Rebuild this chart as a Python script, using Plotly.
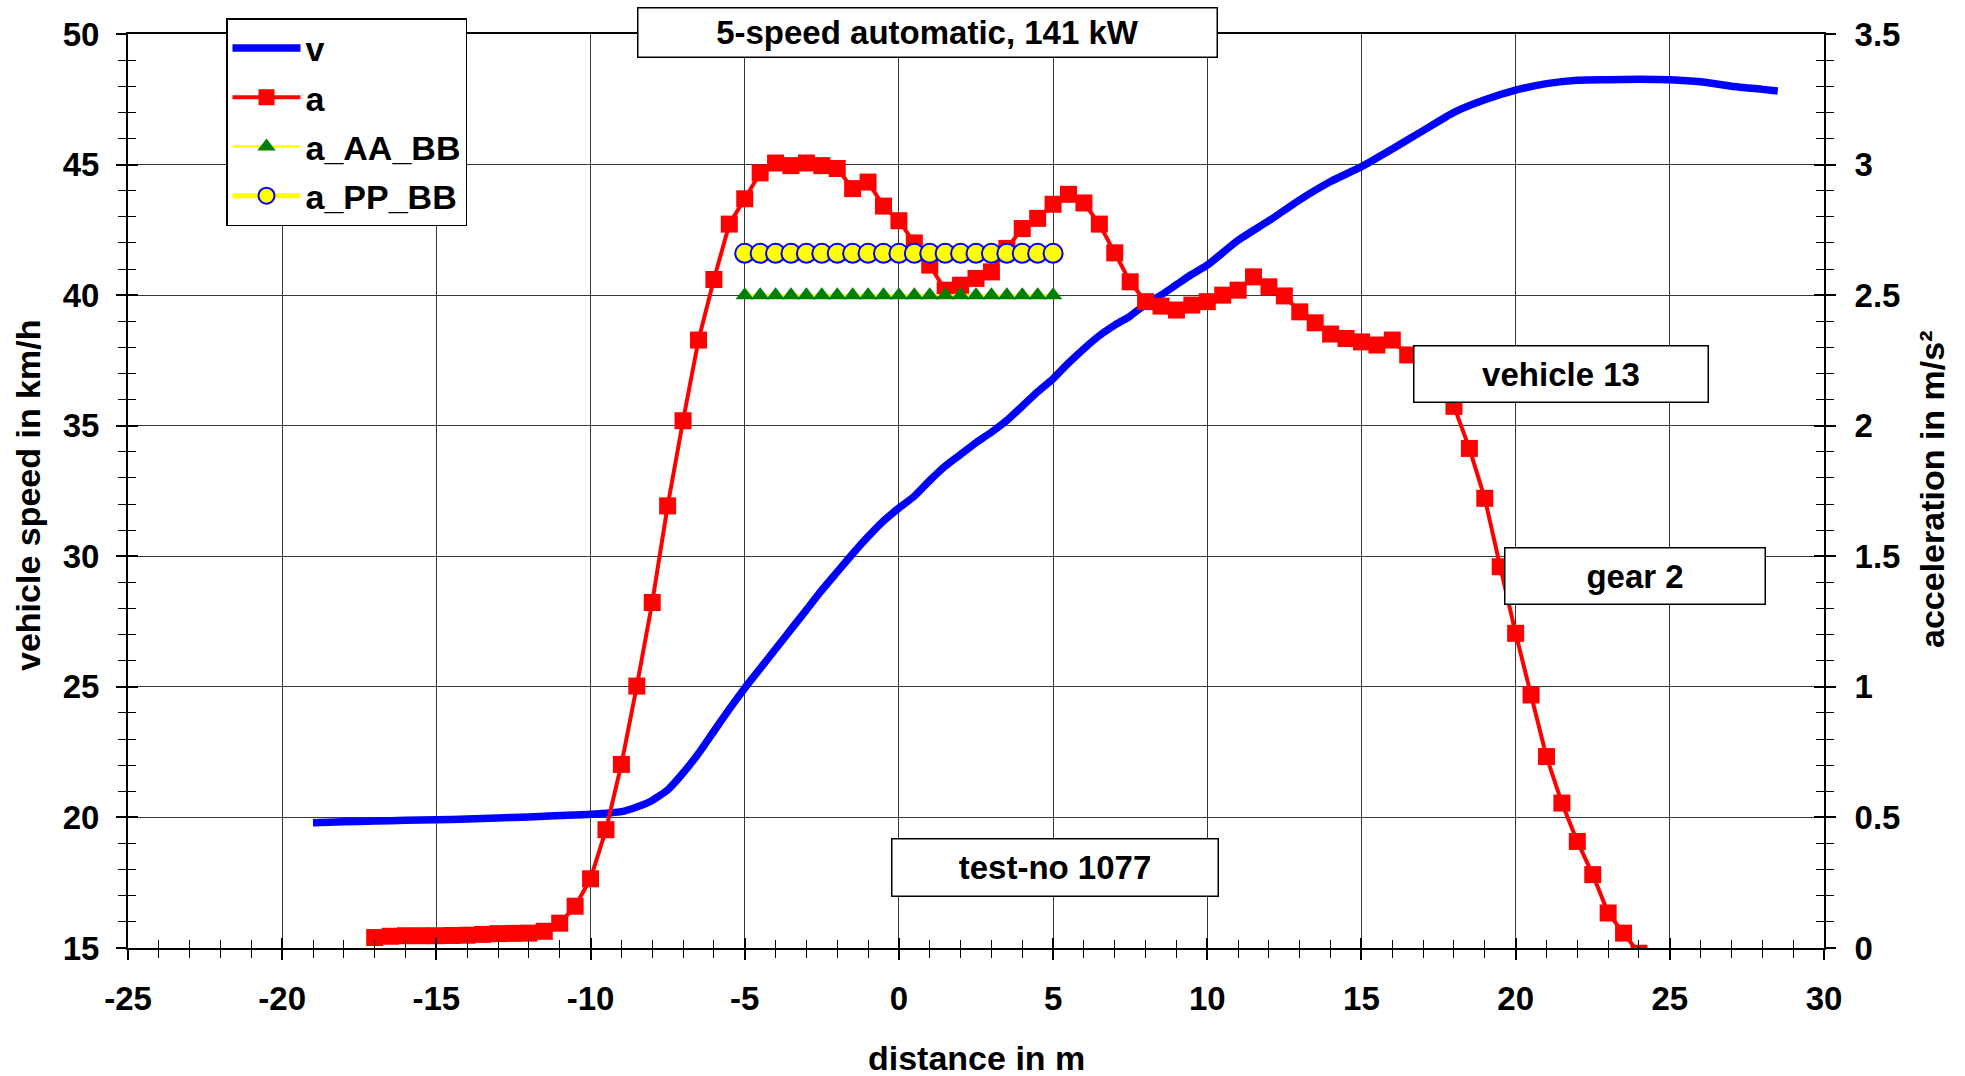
import plotly.graph_objects as go

# ---------------- data ----------------
distance_a = [-17, -16.5, -16, -15.5, -15, -14.5, -14, -13.5, -13, -12.5, -12, -11.5, -11, -10.5,
              -10, -9.5, -9, -8.5, -8, -7.5, -7, -6.5, -6, -5.5, -5, -4.5, -4, -3.5, -3, -2.5,
              -2, -1.5, -1, -0.5, 0, 0.5, 1, 1.5, 2, 2.5, 3, 3.5, 4, 4.5, 5, 5.5, 6, 6.5, 7,
              7.5, 8, 8.5, 9, 9.5, 10, 10.5, 11, 11.5, 12, 12.5, 13, 13.5, 14, 14.5, 15, 15.5,
              16, 16.5, 17, 17.5, 18, 18.5, 19, 19.5, 20, 20.5, 21, 21.5, 22, 22.5, 23, 23.5, 24]
accel_a = [0.040, 0.045, 0.047, 0.047, 0.047, 0.048, 0.049, 0.052, 0.055, 0.056, 0.057, 0.064,
           0.095, 0.160, 0.265, 0.453, 0.703, 1.003, 1.323, 1.693, 2.019, 2.328, 2.560, 2.772,
           2.869, 2.968, 3.006, 2.996, 3.006, 2.996, 2.985, 2.908, 2.933, 2.841, 2.785, 2.700,
           2.615, 2.519, 2.538, 2.564, 2.589, 2.679, 2.755, 2.794, 2.848, 2.886, 2.853, 2.772,
           2.662, 2.551, 2.475, 2.458, 2.443, 2.462, 2.475, 2.500, 2.519, 2.570, 2.532, 2.497,
           2.436, 2.394, 2.351, 2.334, 2.321, 2.309, 2.328, 2.271, 2.210, 2.150, 2.074, 1.913,
           1.722, 1.460, 1.205, 0.969, 0.733, 0.555, 0.408, 0.281, 0.134, 0.057, -0.020]

distance_v = [-19, -18, -17, -16, -15, -14, -13, -12, -11, -10, -9, -8.5, -8, -7.5, -7, -6.5,
              -6, -5.5, -5, -4.5, -4, -3.5, -3, -2.5, -2, -1.5, -1, -0.5, 0, 0.5, 1, 1.5, 2,
              2.5, 3, 3.5, 4, 4.5, 5, 5.5, 6, 6.5, 7, 7.5, 8, 8.5, 9, 9.5, 10, 11, 12, 13, 14,
              15, 16, 17, 18, 19, 20, 21, 22, 23, 24, 25, 26, 27, 28, 28.5]
speed_v = [19.80, 19.83, 19.86, 19.89, 19.91, 19.94, 19.98, 20.02, 20.07, 20.12, 20.22, 20.40,
           20.65, 21.05, 21.70, 22.45, 23.30, 24.15, 24.95, 25.70, 26.45, 27.20, 27.95, 28.70,
           29.40, 30.10, 30.75, 31.35, 31.85, 32.30, 32.90, 33.45, 33.90, 34.35, 34.75, 35.20,
           35.75, 36.30, 36.80, 37.40, 37.95, 38.45, 38.85, 39.20, 39.65, 40.00, 40.40, 40.80,
           41.15, 42.10, 42.85, 43.65, 44.35, 44.92, 45.60, 46.30, 47.00, 47.48, 47.85, 48.10,
           48.23, 48.25, 48.27, 48.25, 48.17, 48.00, 47.88, 47.82]

distance_ref = [-5, -4.5, -4, -3.5, -3, -2.5, -2, -1.5, -1, -0.5, 0, 0.5, 1, 1.5, 2, 2.5, 3,
                3.5, 4, 4.5, 5]
accel_AA_BB = [2.50, 2.50, 2.50, 2.50, 2.50, 2.50, 2.50, 2.50, 2.50, 2.50, 2.50, 2.50, 2.50,
               2.50, 2.50, 2.50, 2.50, 2.50, 2.50, 2.50, 2.50]
accel_PP_BB = [2.66, 2.66, 2.66, 2.66, 2.66, 2.66, 2.66, 2.66, 2.66, 2.66, 2.66, 2.66, 2.66,
               2.66, 2.66, 2.66, 2.66, 2.66, 2.66, 2.66, 2.66]

x_range = [-25, 30]
v_range = [15, 50]
a_range = [0, 3.5]
x_tickvals = [-25, -20, -15, -10, -5, 0, 5, 10, 15, 20, 25, 30]
x_ticktext = ["-25", "-20", "-15", "-10", "-5", "0", "5", "10", "15", "20", "25", "30"]

# ---------------- layout geometry ----------------
W, H = 1965, 1076
L, R, T, B = 128, 141, 34, 128
PW, PH = W - L - R, H - T - B


def px_x(px):
    return (px - L) / PW


def px_y(py):
    return (H - B - py) / PH


FONT = "Liberation Sans, Arial, sans-serif"
FS = 33
FS_T = 34

fig = go.Figure()

fig.add_trace(go.Scatter(x=distance_v, y=speed_v, name="v", mode="lines",
                         line=dict(color="#0000ff", width=7.5, shape="spline", smoothing=0.5),
                         yaxis="y", legendgroup="g1"))
fig.add_trace(go.Scatter(x=distance_a, y=accel_a, name="a", mode="lines+markers",
                         line=dict(color="#ff0000", width=4),
                         marker=dict(symbol="square", size=17, color="#ff0000"),
                         yaxis="y2", legendgroup="g2"))
fig.add_trace(go.Scatter(x=distance_ref, y=accel_AA_BB, name="a_AA_BB", mode="lines+markers",
                         line=dict(color="#ffff00", width=2.5),
                         marker=dict(symbol="triangle-up", size=16, color="#008000"),
                         yaxis="y2", legendgroup="g3"))
fig.add_trace(go.Scatter(x=distance_ref, y=accel_PP_BB, name="a_PP_BB", mode="lines+markers",
                         line=dict(color="#ffff00", width=5),
                         marker=dict(symbol="circle", size=19, color="#ffff00",
                                     line=dict(color="#0000ff", width=2)),
                         yaxis="y2", legendgroup="g4"))

tickfont = dict(family=FONT, size=FS, color="black", weight="bold")
grid_col = "#383838"

fig.update_layout(
    width=W, height=H,
    margin=dict(l=L, r=R, t=T, b=B, autoexpand=False),
    paper_bgcolor="white", plot_bgcolor="white",
    font=dict(family=FONT, size=FS, color="black", weight="bold"),
    showlegend=True,
    legend=dict(x=px_x(226), y=px_y(18), xanchor="left", yanchor="top",
                bgcolor="white", bordercolor="black", borderwidth=1.5,
                font=dict(family=FONT, size=FS_T, color="black", weight="bold"),
                traceorder="grouped", tracegroupgap=2, itemwidth=68),
    xaxis=dict(range=x_range, tickmode="array", tickvals=x_tickvals, ticktext=x_ticktext,
               showgrid=True, gridcolor=grid_col, gridwidth=1,
               showline=True, linecolor="black", linewidth=2, mirror=True,
               ticks="outside", ticklen=10, tickwidth=2, tickcolor="black",
               minor=dict(dtick=1, tick0=0, ticks="outside", ticklen=8, tickwidth=1.3,
                          tickcolor="black", showgrid=False),
               tickfont=tickfont, ticklabelstandoff=10, zeroline=False),
    xaxis3=dict(range=x_range, overlaying="x", anchor="y", dtick=5, tick0=0,
                tickmode="linear", showgrid=False, showline=False, zeroline=False,
                ticks="inside", ticklen=10, tickwidth=2, tickcolor="black",
                minor=dict(dtick=1, ticks="inside", ticklen=8, tickwidth=1.3,
                           tickcolor="black", showgrid=False),
                showticklabels=False),
    yaxis=dict(range=v_range, dtick=5, tick0=0, tickmode="linear",
               showgrid=True, gridcolor=grid_col, gridwidth=1,
               showline=True, linecolor="black", linewidth=2, mirror=True,
               ticks="outside", ticklen=10, tickwidth=2, tickcolor="black",
               minor=dict(dtick=1, ticks="outside", ticklen=8, tickwidth=1.3,
                          tickcolor="black", showgrid=False),
               tickfont=tickfont, ticklabelstandoff=10, zeroline=False),
    yaxis2=dict(range=a_range, overlaying="y", side="right", anchor="x",
                dtick=0.5, tick0=0, tickmode="linear", showgrid=False,
                showline=True, linecolor="black", linewidth=2,
                ticks="outside", ticklen=10, tickwidth=2, tickcolor="black",
                minor=dict(dtick=0.1, ticks="outside", ticklen=8, tickwidth=1.3,
                           tickcolor="black", showgrid=False),
                tickfont=tickfont, ticklabelstandoff=12, zeroline=False),
    yaxis3=dict(range=v_range, overlaying="y", side="left", anchor="x",
                dtick=5, tick0=0, tickmode="linear", showgrid=False, showline=False,
                zeroline=False, ticks="inside", ticklen=10, tickwidth=2, tickcolor="black",
                minor=dict(dtick=1, ticks="inside", ticklen=8, tickwidth=1.3,
                           tickcolor="black", showgrid=False),
                showticklabels=False),
    yaxis4=dict(range=a_range, overlaying="y", side="right", anchor="x",
                dtick=0.5, tick0=0, tickmode="linear", showgrid=False, showline=False,
                zeroline=False, ticks="inside", ticklen=10, tickwidth=2, tickcolor="black",
                minor=dict(dtick=0.1, ticks="inside", ticklen=8, tickwidth=1.3,
                           tickcolor="black", showgrid=False),
                showticklabels=False),
)

# empty helper traces so the tick-only overlay axes are rendered
for xa, ya in (("x3", "y"), ("x", "y3"), ("x", "y4")):
    fig.add_trace(go.Scatter(x=[], y=[], xaxis=xa, yaxis=ya, showlegend=False,
                             hoverinfo="skip"))

box_font = dict(family=FONT, size=FS, color="black", weight="bold")


def text_box(text, cx, cy, w, h):
    fig.add_annotation(text=text, xref="paper", yref="paper",
                       x=px_x(cx), y=px_y(cy), xanchor="center", yanchor="middle",
                       showarrow=False, width=w, height=h, align="center", valign="middle",
                       bgcolor="white", bordercolor="black", borderwidth=1.5, borderpad=0,
                       font=box_font)


text_box("5-speed automatic, 141 kW", 927, 32, 578, 48)
text_box("vehicle 13", 1561, 374, 293, 55)
text_box("gear 2", 1635, 576, 259, 55)
text_box("test-no 1077", 1055, 867, 325, 56)

title_font = dict(family=FONT, size=FS_T, color="black", weight="bold")
fig.add_annotation(text="distance in m", xref="paper", yref="paper",
                   x=px_x(976), y=px_y(1058), xanchor="center", yanchor="middle",
                   showarrow=False, font=title_font)
fig.add_annotation(text="vehicle speed in km/h", xref="paper", yref="paper",
                   x=px_x(28), y=px_y(496), xanchor="center", yanchor="middle",
                   textangle=-90, showarrow=False, font=title_font)
fig.add_annotation(text="acceleration in m/s²", xref="paper", yref="paper",
                   x=px_x(1932), y=px_y(490), xanchor="center", yanchor="middle",
                   textangle=-90, showarrow=False, font=title_font)

fig.write_html("out.html",
               config={"displayModeBar": False},
               post_script="document.body.style.margin='0px';"
                           "document.body.style.overflow='hidden';")
